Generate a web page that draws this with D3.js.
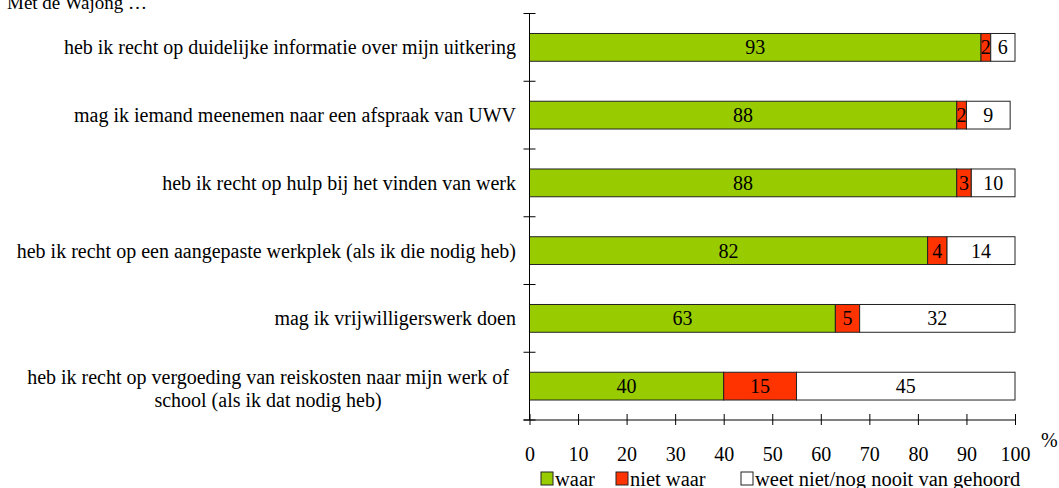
<!DOCTYPE html>
<html>
<head>
<meta charset="utf-8">
<script src="https://cdnjs.cloudflare.com/ajax/libs/d3/7.8.5/d3.min.js"></script>
<style>
  body { margin: 0; background: #fff; }
  svg text { font-family: "Liberation Serif", "Times New Roman", Times, serif; fill: #000; }
</style>
</head>
<body>
<div id="chart"></div>
<script>
var categories = [
  ["heb ik recht op duidelijke informatie over mijn uitkering"],
  ["mag ik iemand meenemen naar een afspraak van UWV"],
  ["heb ik recht op hulp bij het vinden van werk "],
  ["heb ik recht op een aangepaste werkplek (als ik die nodig heb)"],
  ["mag ik vrijwilligerswerk doen"],
  ["heb ik recht op vergoeding van reiskosten naar mijn werk of", "school (als ik dat nodig heb)"]
];
var waar = [93, 88, 88, 82, 63, 40];
var nietWaar = [2, 2, 3, 4, 5, 15];
var weetNiet = [6, 9, 10, 14, 32, 45];
var xTicks = [0, 10, 20, 30, 40, 50, 60, 70, 80, 90, 100];
var seriesNames = ["waar", "niet waar", "weet niet/nog nooit van gehoord"];
var colors = ["#99cc00", "#ff3300", "#ffffff"];

var width = 1059, height = 488;
var margin = { top: 13.5, right: 44, bottom: 68, left: 529.5 };

var svg = d3.select("#chart")
  .append("svg")
    .attr("width", width)
    .attr("height", height);

var x = d3.scaleLinear()
  .domain([0, 100])
  .range([margin.left, width - margin.right]);

var y = d3.scaleBand()
  .domain(d3.range(categories.length))
  .range([margin.top, height - margin.bottom])
  .paddingInner(0.59)
  .paddingOuter(0.295);

// stacked segments, the chart stops at 100
var rows = categories.map(function(c, i) {
  var vals = [waar[i], nietWaar[i], weetNiet[i]];
  var start = 0;
  return vals.map(function(v, k) {
    var seg = { row: i, k: k, v: v, x0: start, x1: Math.min(start + v, 100) };
    start += v;
    return seg;
  });
});
var segs = [].concat.apply([], rows);

svg.append("text")
  .attr("x", 7)
  .attr("y", 9)
  .style("font-size", "19px")
  .text("Met de Wajong \u2026");

svg.selectAll("rect.seg")
  .data(segs)
  .enter()
  .append("rect")
    .attr("class", "seg")
    .attr("x", function(d) { return x(d.x0); })
    .attr("y", function(d) { return y(d.row); })
    .attr("width", function(d) { return x(d.x1) - x(d.x0); })
    .attr("height", y.bandwidth())
    .style("fill", function(d) { return colors[d.k]; })
    .attr("stroke", "#222")
    .attr("stroke-width", 1);

svg.selectAll("text.val")
  .data(segs)
  .enter()
  .append("text")
    .attr("class", "val")
    .attr("x", function(d) { return (x(d.x0) + x(d.x1)) / 2; })
    .attr("y", function(d) { return y(d.row) + y.bandwidth() / 2; })
    .attr("dy", "0.35em")
    .attr("text-anchor", "middle")
    .style("font-size", "20px")
    .text(function(d) { return d.v; });

// y axis with ticks between the categories
var yAxisG = svg.append("g");
yAxisG.append("line")
  .attr("x1", margin.left).attr("x2", margin.left)
  .attr("y1", margin.top).attr("y2", height - margin.bottom)
  .attr("stroke", "#000");
var yTicks = d3.range(categories.length + 1).map(function(i) {
  return margin.top + i * y.step();
});
yAxisG.selectAll("line.tick")
  .data(yTicks)
  .enter()
  .append("line")
    .attr("x1", margin.left - 6).attr("x2", margin.left + 6)
    .attr("y1", function(d) { return d; }).attr("y2", function(d) { return d; })
    .attr("stroke", "#000");

// category labels
var labelRight = 516;
categories.forEach(function(lines, i) {
  var cy = y(i) + y.bandwidth() / 2;
  var t = svg.append("text")
    .attr("class", "cat")
    .style("font-size", "20px");
  if (lines.length === 1) {
    t.attr("x", labelRight).attr("y", cy).attr("dy", "0.35em")
      .attr("text-anchor", "end").text(lines[0]);
  } else {
    t.attr("text-anchor", "middle");
    lines.forEach(function(l, j) {
      t.append("tspan").attr("x", 268).attr("y", cy - 9.5 + j * 23).attr("dy", "0.35em").text(l);
    });
  }
});

// x axis
var xAxis = svg.append("g")
  .attr("transform", "translate(0," + (height - margin.bottom) + ")")
  .call(d3.axisBottom(x).tickValues(xTicks).tickSize(6).tickPadding(21).tickSizeOuter(0));
xAxis.attr("font-family", null).attr("font-size", null);
xAxis.selectAll(".tick line").attr("y1", -6).attr("y2", 5).attr("stroke", "#000");
xAxis.selectAll(".tick text")
  .style("font-size", "20px");
xAxis.select(".domain").attr("stroke", "#000")
  .attr("d", "M" + (margin.left - 6) + ",0H" + x(100));

svg.append("text")
  .attr("x", 1041)
  .attr("y", 447)
  .style("font-size", "20px")
  .text("%");

// legend
var legendX = [541, 616, 741];
var legend = svg.selectAll("g.leg")
  .data(seriesNames)
  .enter()
  .append("g")
    .attr("class", "leg")
    .attr("transform", function(d, i) { return "translate(" + legendX[i] + ",472)"; });
legend.append("rect")
  .attr("width", 12).attr("height", 13)
  .style("fill", function(d, i) { return colors[i]; })
  .attr("stroke", "#222");
legend.append("text")
  .attr("x", 14).attr("y", 14)
  .style("font-size", "20.5px")
  .text(function(d) { return d; });
</script>
</body>
</html>
